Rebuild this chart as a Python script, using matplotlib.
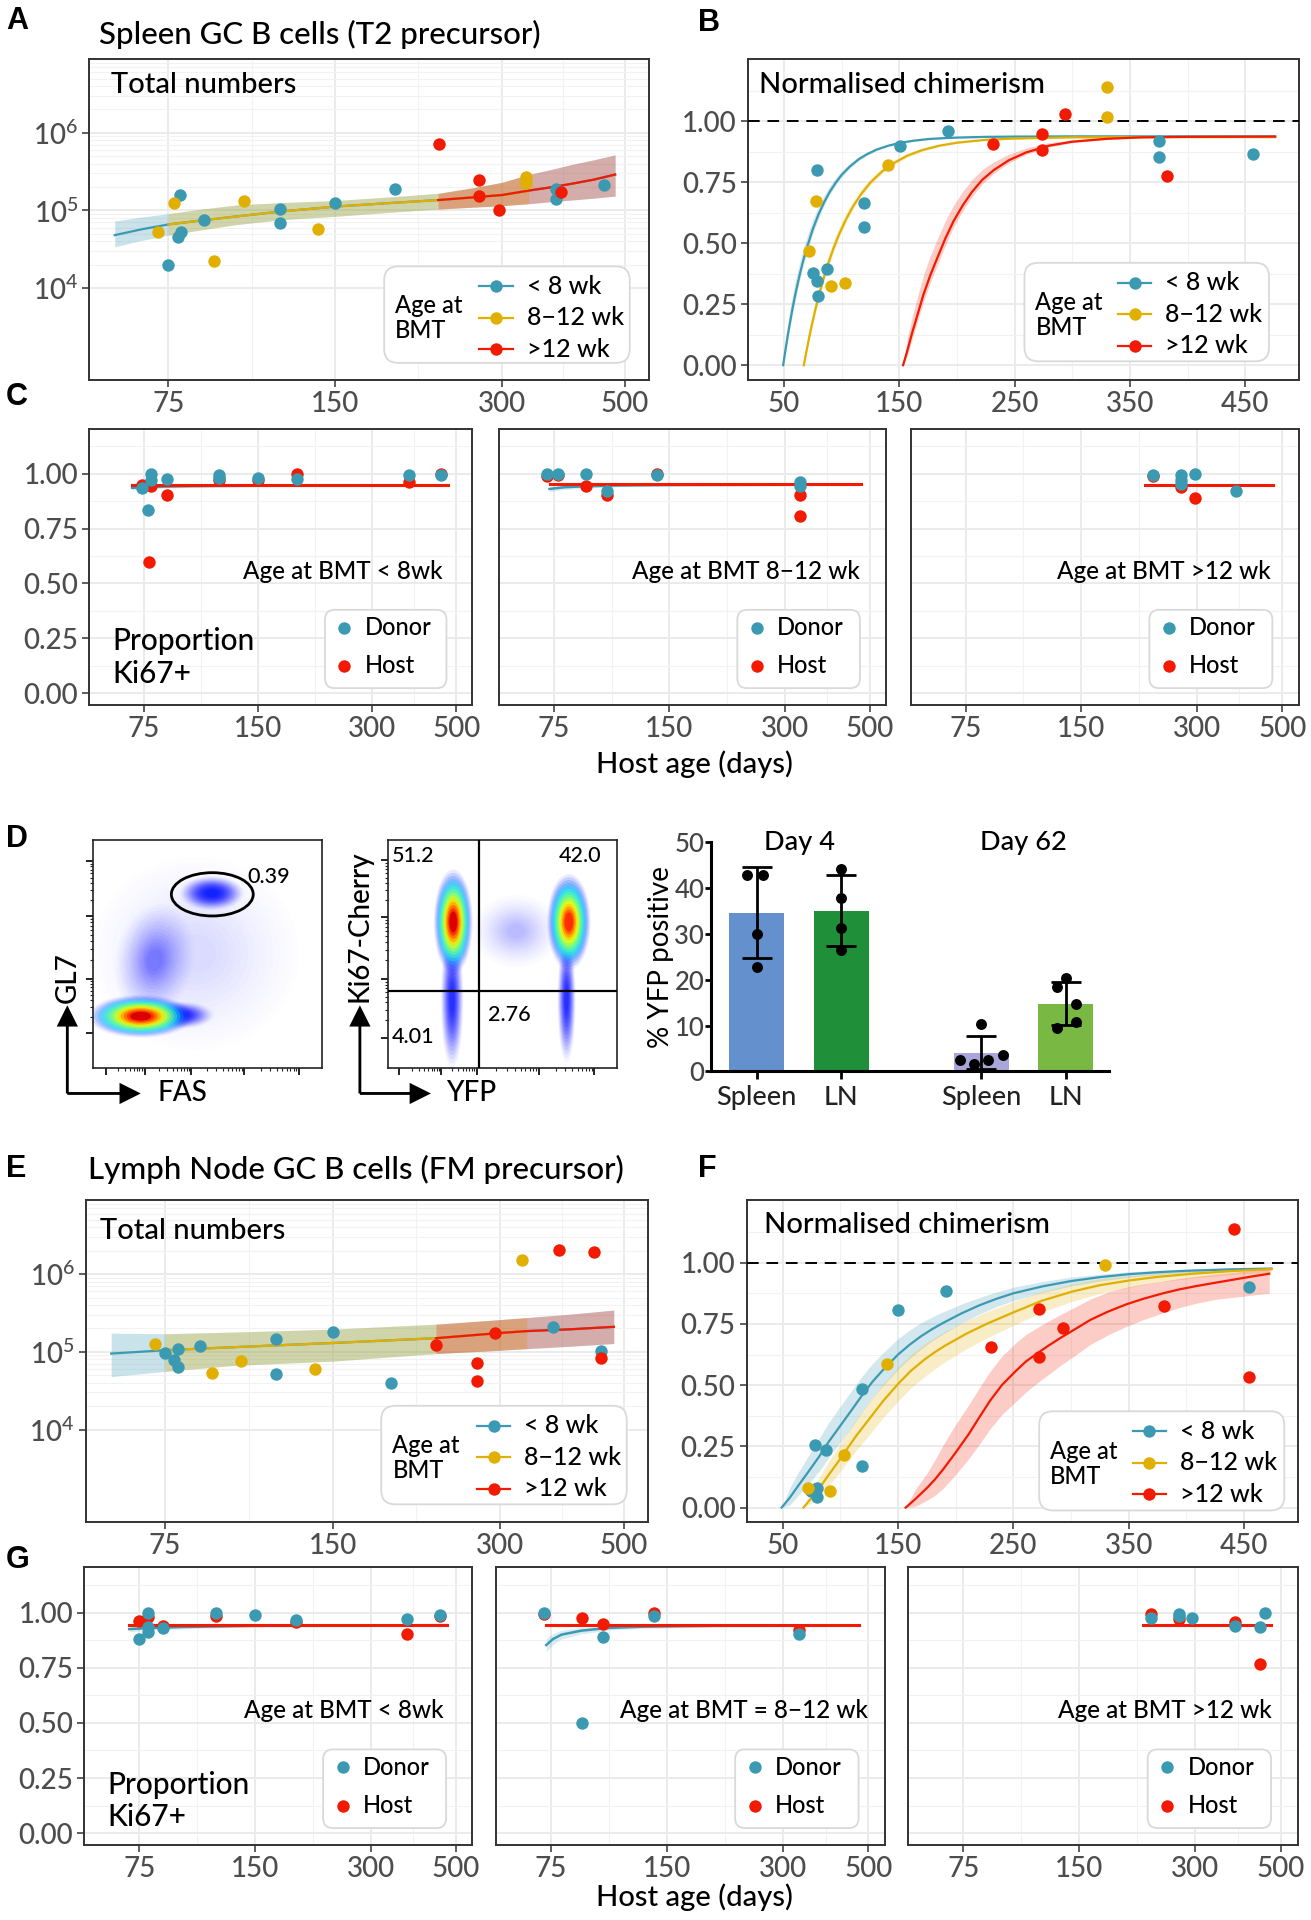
import numpy as np
import matplotlib
matplotlib.use("Agg")
import matplotlib.pyplot as plt
from matplotlib.patches import FancyBboxPatch, Ellipse, FancyArrowPatch
from matplotlib.ticker import NullFormatter

plt.rcParams['font.family'] = ['Lato', 'DejaVu Sans']
plt.rcParams['font.weight'] = 'medium'
plt.rcParams['mathtext.fontset'] = 'custom'
plt.rcParams['mathtext.rm'] = 'Lato'

# === Palette / shared labels ===
BLUE, YELLOW, RED = '#3B9AB2', '#E1AF00', '#F21A00'
GROUP_COLORS = [BLUE, YELLOW, RED]
GROUP_LABELS = ['< 8 wk', '8\u221212 wk', '>12 wk']
AGE_TICKS = [75, 150, 300, 500]
AGE_MINOR = [106, 212, 387]
CHIM_TICKS = [50, 150, 250, 350, 450]
CHIM_MINOR = [100, 200, 300, 400]
PROP_TICKS = [0.0, 0.25, 0.5, 0.75, 1.0]
PROP_MINOR = [0.125, 0.375, 0.625, 0.875, 1.125]

# === A: spleen GC B cells, total numbers ===
A_BLUE_X = [78.7, 86.8, 79, 78, 75, 119, 119, 150, 192, 376, 376, 459]
A_BLUE_Y = [1.58e5, 7.6e4, 5.2e4, 4.5e4, 2.0e4, 1.04e5, 6.8e4, 1.24e5, 1.9e5, 1.9e5, 1.39e5, 2.1e5]
A_YELLOW_X = [71.8, 76.8, 90.5, 102.7, 139.5, 331, 331]
A_YELLOW_Y = [5.2e4, 1.24e5, 2.2e4, 1.34e5, 5.7e4, 2.7e5, 2.26e5]
A_RED_X = [231, 273, 273, 296, 383]
A_RED_Y = [7.1e5, 2.5e5, 1.53e5, 1.02e5, 1.74e5]
A_FIT_X = [60, 67, 75, 87, 100, 120, 150, 190, 230, 265, 300, 335, 370, 400, 440, 480]
A_FIT_MID = [4.8e4, 5.7e4, 6.6e4, 7.5e4, 8.4e4, 9.7e4, 1.12e5, 1.25e5, 1.36e5, 1.47e5, 1.58e5, 1.8e5, 2.0e5, 2.2e5, 2.5e5, 2.9e5]
A_FIT_HI = [7.3e4, 8.2e4, 9.1e4, 1.05e5, 1.18e5, 1.26e5, 1.34e5, 1.5e5, 1.66e5, 1.95e5, 2.3e5, 2.9e5, 3.4e5, 3.9e5, 4.5e5, 5.2e5]
A_FIT_LO = [3.4e4, 4.1e4, 4.8e4, 5.7e4, 6.6e4, 7.6e4, 8.4e4, 9.5e4, 1.04e5, 1.1e5, 1.15e5, 1.22e5, 1.3e5, 1.36e5, 1.44e5, 1.53e5]
A_FIT_SPANS = [(60, 480), (75, 335), (230, 480)]

# === B: spleen normalised chimerism ===
B_BLUE_X = [78.2, 75.3, 79, 79.3, 87.4, 119.6, 119.6, 150.7, 192, 375, 375, 456.6]
B_BLUE_Y = [0.799, 0.376, 0.344, 0.283, 0.395, 0.663, 0.566, 0.900, 0.962, 0.918, 0.852, 0.866]
B_YELLOW_X = [72, 77.5, 91, 103, 140.5, 330, 330]
B_YELLOW_Y = [0.467, 0.675, 0.326, 0.335, 0.821, 1.14, 1.018]
B_RED_X = [231, 273.4, 273.4, 294, 382]
B_RED_Y = [0.907, 0.948, 0.881, 1.03, 0.775]
B_BLUE_FIT_X = [49.3, 50.5, 52, 53.5, 55, 57.5, 60, 62.5, 65, 67.5, 70, 75, 80, 85, 90, 95, 100, 107, 115,
                122, 130, 140, 150, 162, 175, 190, 200, 225, 250, 300, 400, 476]
B_BLUE_FIT_Y = [0.0, 0.039, 0.085, 0.129, 0.170, 0.235, 0.294, 0.348, 0.398, 0.443, 0.484, 0.558, 0.619,
                0.670, 0.713, 0.749, 0.780, 0.814, 0.845, 0.865, 0.883, 0.899, 0.911, 0.920, 0.927, 0.931,
                0.933, 0.936, 0.937, 0.938, 0.938, 0.938]
B_BLUE_FIT_UP = [0, 0.03, 0.045, 0.05, 0.055, 0.055, 0.055, 0.052, 0.05, 0.047, 0.044, 0.038, 0.033, 0.028,
                 0.024, 0.02, 0.017, 0.013, 0.01, 0.008, 0.007, 0.005, 0.004, 0.004, 0.003, 0.003, 0.003,
                 0.003, 0.003, 0.003, 0.003, 0.003]
B_BLUE_FIT_DN = [0, 0.01, 0.015, 0.02, 0.02, 0.022, 0.022, 0.022, 0.022, 0.021, 0.02, 0.018, 0.016, 0.014,
                 0.012, 0.01, 0.009, 0.007, 0.006, 0.005, 0.004, 0.003, 0.003, 0.003, 0.003, 0.002, 0.002,
                 0.002, 0.002, 0.002, 0.002, 0.002]
B_YELLOW_FIT_X = [67.2, 68.5, 70, 72, 74, 77, 80, 84, 88, 93, 98, 104, 110, 117, 125, 135, 145, 157, 170,
                  185, 200, 225, 250, 300, 400, 476]
B_YELLOW_FIT_Y = [0.0, 0.033, 0.070, 0.117, 0.162, 0.224, 0.281, 0.350, 0.412, 0.480, 0.539, 0.600, 0.652,
                  0.702, 0.749, 0.794, 0.828, 0.859, 0.882, 0.900, 0.912, 0.924, 0.929, 0.934, 0.935, 0.935]
B_YELLOW_FIT_UP = [0, 0.015, 0.025, 0.03, 0.033, 0.035, 0.035, 0.034, 0.032, 0.03, 0.028, 0.025, 0.022,
                   0.019, 0.016, 0.013, 0.011, 0.009, 0.007, 0.005, 0.004, 0.003, 0.003, 0.003, 0.003, 0.003]
B_YELLOW_FIT_DN = [0, 0.008, 0.01, 0.012, 0.013, 0.014, 0.015, 0.015, 0.015, 0.014, 0.013, 0.012, 0.011,
                   0.01, 0.009, 0.008, 0.007, 0.006, 0.005, 0.004, 0.003, 0.003, 0.002, 0.002, 0.002, 0.002]
B_RED_FIT_X = [153.3, 157, 161, 166, 171, 177, 183, 190, 197, 205, 213, 222, 232, 245, 260, 280, 300, 330,
               360, 400, 476]
B_RED_FIT_Y = [0.0, 0.06, 0.13, 0.21, 0.29, 0.37, 0.44, 0.52, 0.59, 0.655, 0.71, 0.76, 0.80, 0.84, 0.872,
               0.90, 0.916, 0.928, 0.934, 0.936, 0.937]
B_RED_FIT_UP = [0, 0.05, 0.065, 0.075, 0.08, 0.08, 0.078, 0.072, 0.065, 0.057, 0.05, 0.042, 0.034, 0.025,
                0.018, 0.012, 0.008, 0.005, 0.003, 0.002, 0.002]
B_RED_FIT_DN = [0, 0.02, 0.025, 0.028, 0.03, 0.03, 0.03, 0.028, 0.025, 0.022, 0.02, 0.017, 0.014, 0.011,
                0.008, 0.006, 0.004, 0.003, 0.002, 0.002, 0.002]

# === C: spleen proportion Ki67+ (donor / host) ===
C1_DONOR_X = [74.4, 78.7, 78.7, 77.3, 86.6, 118.7, 118.7, 150, 190.5, 375, 457]
C1_DONOR_Y = [0.936, 0.997, 0.97, 0.833, 0.977, 0.992, 0.982, 0.982, 0.977, 0.995, 0.992]
C1_HOST_X = [74.4, 78.7, 77.7, 86.6, 118.7, 150, 190.5, 375, 457]
C1_HOST_Y = [0.947, 0.942, 0.598, 0.902, 0.973, 0.97, 1.0, 0.962, 1.0]
C2_DONOR_X = [71.8, 77, 90.9, 103.1, 139.5, 329, 329]
C2_DONOR_Y = [1.0, 1.0, 1.0, 0.922, 0.995, 0.962, 0.942]
C2_HOST_X = [71.8, 77, 90.9, 103.1, 139.5, 329, 329]
C2_HOST_Y = [0.991, 0.995, 0.945, 0.904, 1.0, 0.904, 0.808]
C3_DONOR_X = [230.5, 272.6, 272.6, 272.6, 295.6, 380]
C3_DONOR_Y = [0.995, 0.992, 0.973, 0.952, 1.0, 0.921]
C3_HOST_X = [230.5, 272.6, 295.6]
C3_HOST_Y = [0.989, 0.939, 0.889]
C1_DONOR_FIT = ([70, 80, 100, 150, 475], [0.935, 0.94, 0.943, 0.945, 0.946], [0.01, 0.008, 0.006, 0.005, 0.005])
C1_HOST_FIT = ([70, 475], [0.948, 0.948])
C2_DONOR_FIT = ([73, 80, 90, 110, 150, 473], [0.93, 0.938, 0.942, 0.946, 0.948, 0.95], [0.012, 0.01, 0.008, 0.006, 0.005, 0.005])
C2_HOST_FIT = ([73, 473], [0.953, 0.953])
C3_DONOR_FIT = ([220, 472], [0.948, 0.948], [0.005, 0.005])
C3_HOST_FIT = ([220, 472], [0.95, 0.95])

# === D: YFP positive bars ===
BAR_NAMES = ['Spleen', 'LN', 'Spleen', 'LN']
BAR_DAYS = ['Day 4', 'Day 62']
BAR_MEANS = [34.7, 35.1, 4.1, 14.8]
BAR_SD = [10.0, 7.7, 3.6, 4.7]
BAR_COLORS = ['#6490CD', '#1F8F3A', '#A9A6DA', '#79B843']
BAR_DOTS = [[43.0, 43.0, 30.0, 22.8],
            [44.3, 37.8, 31.4, 26.5],
            [10.4, 2.55, 1.53, 2.4, 3.6],
            [20.5, 18.4, 14.8, 9.5, 10.9]]
BAR_DOT_JITTER = [[-0.115, 0.075, 0.0, 0.0],
                  [0.0, 0.0, 0.0, 0.0],
                  [0.0, -0.25, -0.085, 0.08, 0.255],
                  [0.0, -0.11, 0.115, -0.11, 0.115]]
# flow populations: centre x, centre y, width, height, angle, peak level, alpha outer, alpha inner
FLOW1_BLOBS = [(0.45, 0.50, 0.90, 0.85, 0, 0.12, 0.008, 0.012),
               (0.27, 0.47, 0.34, 0.50, -10, 0.13, 0.015, 0.07),
               (0.52, 0.765, 0.28, 0.15, 0, 0.15, 0.04, 0.28),
               (0.38, 0.23, 0.30, 0.12, 0, 0.14, 0.03, 0.25),
               (0.21, 0.225, 0.46, 0.19, 0, 0.92, 0.05, 1.0)]
FLOW2_BLOBS = [(0.56, 0.60, 0.38, 0.32, 0, 0.12, 0.01, 0.03),
               (0.28, 0.30, 0.10, 0.60, 0, 0.14, 0.04, 0.2),
               (0.78, 0.30, 0.08, 0.55, 0, 0.14, 0.04, 0.2),
               (0.285, 0.64, 0.17, 0.46, 0, 0.92, 0.08, 1.0),
               (0.79, 0.64, 0.19, 0.42, 0, 0.86, 0.08, 1.0)]
FLOW1_GATE = (0.522, 0.76, 0.357, 0.19)
FLOW1_GATE_PCT = '0.39'
FLOW2_QUAD = (0.397, 0.339)
FLOW2_PCTS = ['51.2', '42.0', '4.01', '2.76']

# === E: lymph node total numbers ===
E_BLUE_X = [75, 79, 77.8, 79, 86.6, 118.8, 118.8, 150, 191.2, 373.6, 454.5]
E_BLUE_Y = [9.7e4, 1.09e5, 7.8e4, 6.4e4, 1.18e5, 1.48e5, 5.25e4, 1.78e5, 3.95e4, 2.06e5, 1.04e5]
E_YELLOW_X = [71.9, 90.9, 102.6, 139.3, 329]
E_YELLOW_Y = [1.26e5, 5.4e4, 7.6e4, 6.1e4, 1.53e6]
E_RED_X = [230.4, 272.9, 272.9, 294, 382, 441.6, 454.5]
E_RED_Y = [1.22e5, 7.2e4, 4.2e4, 1.74e5, 2.04e6, 1.9e6, 8.4e4]
E_FIT_X = [60, 75, 100, 150, 230, 300, 335, 400, 480]
E_FIT_MID = [9.5e4, 1.05e5, 1.15e5, 1.3e5, 1.5e5, 1.75e5, 1.85e5, 1.95e5, 2.1e5]
E_FIT_HI = [1.74e5, 1.71e5, 1.8e5, 1.96e5, 2.27e5, 2.6e5, 2.76e5, 3.05e5, 3.45e5]
E_FIT_LO = [4.8e4, 5.6e4, 6.7e4, 7.6e4, 9.5e4, 1.05e5, 1.1e5, 1.18e5, 1.28e5]
E_FIT_SPANS = [(60, 480), (75, 335), (230, 480)]

# === F: lymph node normalised chimerism ===
F_BLUE_X = [78.1, 87.2, 74.5, 79.4, 80, 119, 119, 150, 192, 454.7]
F_BLUE_Y = [0.256, 0.236, 0.066, 0.082, 0.044, 0.486, 0.171, 0.805, 0.886, 0.901]
F_YELLOW_X = [71.5, 90.9, 102.9, 140.1, 329.2]
F_YELLOW_Y = [0.082, 0.068, 0.215, 0.585, 0.99]
F_RED_X = [230.3, 272.3, 272.3, 293, 381, 441, 454]
F_RED_Y = [0.655, 0.811, 0.616, 0.733, 0.825, 1.137, 0.533]
F_BLUE_FIT_X = [49, 56, 63.5, 72, 81.8, 90, 100, 110, 119, 128, 136.5, 150, 160, 170, 180, 189.4, 205, 220,
                235, 250, 275, 300, 325, 350, 375, 400, 440, 474]
F_BLUE_FIT_Y = [0.0, 0.04, 0.09, 0.145, 0.21, 0.27, 0.335, 0.4, 0.46, 0.515, 0.56, 0.625, 0.665, 0.70, 0.73,
                0.755, 0.793, 0.825, 0.852, 0.875, 0.903, 0.925, 0.941, 0.953, 0.961, 0.967, 0.973, 0.976]
F_BLUE_FIT_UP = [0, 0.04, 0.055, 0.065, 0.075, 0.078, 0.08, 0.08, 0.078, 0.074, 0.07, 0.065, 0.06, 0.055,
                 0.05, 0.045, 0.038, 0.032, 0.028, 0.025, 0.02, 0.016, 0.012, 0.01, 0.008, 0.006, 0.005, 0.004]
F_BLUE_FIT_DN = [0, 0.03, 0.04, 0.05, 0.06, 0.065, 0.068, 0.07, 0.068, 0.066, 0.064, 0.06, 0.056, 0.052,
                 0.048, 0.045, 0.04, 0.036, 0.032, 0.03, 0.025, 0.02, 0.016, 0.013, 0.01, 0.008, 0.007, 0.006]
F_YELLOW_FIT_X = [67.9, 75, 81.8, 90, 97, 103.6, 114, 125.5, 137, 150, 161, 173, 182, 191, 210, 227.7, 250,
                  275, 301, 325, 350, 375, 403, 440, 474]
F_YELLOW_FIT_Y = [0.0, 0.04, 0.08, 0.135, 0.18, 0.225, 0.295, 0.365, 0.435, 0.505, 0.558, 0.605, 0.635,
                  0.662, 0.712, 0.752, 0.797, 0.845, 0.882, 0.908, 0.927, 0.942, 0.954, 0.966, 0.974]
F_YELLOW_FIT_UP = [0, 0.03, 0.045, 0.055, 0.06, 0.065, 0.068, 0.07, 0.07, 0.068, 0.066, 0.063, 0.06, 0.058,
                   0.053, 0.049, 0.044, 0.037, 0.031, 0.026, 0.02, 0.016, 0.012, 0.009, 0.007]
F_YELLOW_FIT_DN = [0, 0.02, 0.03, 0.045, 0.05, 0.055, 0.06, 0.065, 0.068, 0.07, 0.07, 0.07, 0.068, 0.066,
                   0.062, 0.058, 0.053, 0.046, 0.04, 0.034, 0.028, 0.022, 0.018, 0.014, 0.012]
F_RED_FIT_X = [156.6, 165, 175, 182, 189.4, 200, 211.3, 220, 229.6, 240, 251.5, 261, 270.8, 281, 291.6, 304,
               317, 332, 348, 363, 379, 393, 408, 425, 440, 456, 472]
F_RED_FIT_Y = [0.0, 0.035, 0.08, 0.115, 0.158, 0.225, 0.30, 0.365, 0.435, 0.50, 0.555, 0.597, 0.63, 0.663,
               0.695, 0.73, 0.767, 0.8, 0.83, 0.853, 0.874, 0.89, 0.904, 0.918, 0.93, 0.943, 0.955]
F_RED_FIT_UP = [0, 0.04, 0.06, 0.08, 0.1, 0.115, 0.12, 0.12, 0.12, 0.118, 0.115, 0.11, 0.105, 0.1, 0.095,
                0.09, 0.085, 0.08, 0.07, 0.06, 0.05, 0.045, 0.04, 0.035, 0.03, 0.025, 0.02]
F_RED_FIT_DN = [0, 0.03, 0.05, 0.065, 0.078, 0.09, 0.1, 0.11, 0.115, 0.12, 0.125, 0.125, 0.12, 0.118, 0.112,
                0.107, 0.1, 0.095, 0.09, 0.085, 0.08, 0.075, 0.07, 0.068, 0.072, 0.076, 0.08]

# === G: lymph node proportion Ki67+ ===
G1_DONOR_X = [75, 78.9, 78.9, 78.9, 86.3, 119, 150, 192.2, 373.5, 454]
G1_DONOR_Y = [0.88, 1.0, 0.936, 0.914, 0.929, 1.0, 0.989, 0.967, 0.971, 0.989]
G1_HOST_X = [75, 78.9, 86.3, 119, 192.2, 373.5, 454]
G1_HOST_Y = [0.962, 0.979, 0.941, 0.985, 0.955, 0.902, 0.985]
G2_DONOR_X = [72, 90.6, 102.6, 138.6, 330]
G2_DONOR_Y = [1.0, 0.5, 0.89, 0.985, 0.903]
G2_HOST_X = [72, 90.6, 102.6, 138.6, 330]
G2_HOST_Y = [0.994, 0.974, 0.948, 0.997, 0.921]
G3_DONOR_X = [230.5, 272.5, 272.5, 293.6, 379.5, 440, 455]
G3_DONOR_Y = [0.974, 0.994, 0.985, 0.974, 0.939, 0.933, 1.0]
G3_HOST_X = [230.5, 272.5, 379.5, 440]
G3_HOST_Y = [0.994, 0.971, 0.955, 0.765]
G1_DONOR_FIT = ([70.6, 80, 100, 150, 474], [0.925, 0.93, 0.935, 0.94, 0.943], [0.012, 0.01, 0.008, 0.006, 0.005])
G1_HOST_FIT = ([70.6, 474], [0.944, 0.944])
G2_DONOR_FIT = ([73, 76, 80, 90, 105, 130, 200, 472], [0.853, 0.88, 0.9, 0.918, 0.93, 0.936, 0.94, 0.942],
                [0.03, 0.025, 0.02, 0.015, 0.01, 0.008, 0.006, 0.005])
G2_HOST_FIT = ([73, 472], [0.945, 0.945])
G3_DONOR_FIT = ([220, 472], [0.942, 0.942], [0.005, 0.005])
G3_HOST_FIT = ([220, 472], [0.944, 0.944])

# === Figure & layout helpers (layout measured on a 1071 x 1568 grid) ===
W, H = 1071.0, 1568.0
fig = plt.figure(figsize=(13.11, 19.20), dpi=100)


def rect(x0, y0, x1, y1):
    return [x0 / W, 1 - y1 / H, (x1 - x0) / W, (y1 - y0) / H]


def fpt(x, y):
    return (x / W, 1 - y / H)


def ftext(x, y, s, **kw):
    fig.text(x / W, 1 - y / H, s, **kw)


def letter(x, y, s):
    ftext(x, y, s, fontsize=22, fontweight='bold', family='Liberation Sans', va='center', ha='left')


def style_gg(ax):
    ax.set_facecolor('white')
    for sp in ax.spines.values():
        sp.set_color('#333333')
        sp.set_linewidth(1.4)
    ax.tick_params(which='major', length=5, width=1.1, color='#333333',
                   labelsize=20, labelcolor='#4D4D4D', pad=3)
    ax.tick_params(which='minor', length=0)
    ax.grid(which='major', color='#EBEBEB', lw=1.4)
    ax.grid(which='minor', color='#F2F2F2', lw=0.8)
    ax.set_axisbelow(True)


def log_age_x(ax):
    ax.set_xscale('log')
    ax.set_xlim(54, 552)
    ax.set_xticks(AGE_TICKS)
    ax.set_xticklabels([str(t) for t in AGE_TICKS])
    ax.set_xticks(AGE_MINOR, minor=True)
    ax.xaxis.set_minor_formatter(NullFormatter())


def round_box(ax, x0, y0, x1, y1):
    pos = ax.get_position()
    aspect = (pos.width * fig.get_figwidth()) / (pos.height * fig.get_figheight())
    ax.add_patch(FancyBboxPatch((x0, y0), x1 - x0, y1 - y0,
                                boxstyle='round,pad=0,rounding_size=0.025',
                                mutation_aspect=aspect, transform=ax.transAxes,
                                fc='white', ec='#D9D9D9', lw=1.3, zorder=7))


def age_legend(ax, x0, y0, x1, y1):
    round_box(ax, x0, y0, x1, y1)
    ax.text(x0 + 0.02, (y0 + y1) / 2 - 0.01, 'Age at\nBMT', transform=ax.transAxes,
            ha='left', va='center', fontsize=17, linespacing=1.1, zorder=8)
    for i, (c, lab) in enumerate(zip(GROUP_COLORS, GROUP_LABELS)):
        yy = y1 - 0.062 - 0.098 * i
        ax.plot([x0 + 0.17, x0 + 0.23], [yy, yy], transform=ax.transAxes, color=c,
                lw=1.6, zorder=8, clip_on=False)
        ax.scatter([x0 + 0.2], [yy], transform=ax.transAxes, s=80, color=c, lw=0,
                   zorder=9, clip_on=False)
        ax.text(x0 + 0.255, yy, lab, transform=ax.transAxes, ha='left', va='center',
                fontsize=18, zorder=8)


def dh_legend(ax):
    x0, y0, x1, y1 = 0.615, 0.062, 0.932, 0.345
    round_box(ax, x0, y0, x1, y1)
    for c, lab, yy in [(BLUE, 'Donor', 0.28), (RED, 'Host', 0.143)]:
        ax.scatter([0.665], [yy], transform=ax.transAxes, s=80, color=c, lw=0, zorder=9)
        ax.text(0.718, yy, lab, transform=ax.transAxes, ha='left', va='center',
                fontsize=17, zorder=8)


def totals_panel(ax, pts, fx, fmid, flo, fhi, spans, ylim, title_xy, leg):
    style_gg(ax)
    log_age_x(ax)
    ax.set_yscale('log')
    ax.set_ylim(*ylim)
    ax.set_yticks([1e4, 1e5, 1e6])
    ax.set_yticklabels([r'$\mathregular{10^{4}}$', r'$\mathregular{10^{5}}$', r'$\mathregular{10^{6}}$'])
    ax.set_yticks([k * 10.0 ** n for n in (4, 5, 6) for k in range(2, 10)], minor=True)
    ax.yaxis.set_minor_formatter(NullFormatter())
    fx, fmid, flo, fhi = map(np.asarray, (fx, fmid, flo, fhi))
    for c, (a, b) in zip(GROUP_COLORS, spans):
        m = (fx >= a) & (fx <= b)
        ax.fill_between(fx[m], flo[m], fhi[m], color=c, alpha=0.27, lw=0, zorder=2)
    for c, (a, b) in zip(GROUP_COLORS, spans):
        m = (fx >= a) & (fx <= b)
        ax.plot(fx[m], fmid[m], color=c, lw=1.6, zorder=3)
    for c, (x, y) in zip(GROUP_COLORS, pts):
        ax.scatter(x, y, s=80, color=c, lw=0, zorder=4)
    ax.text(title_xy[0], title_xy[1], 'Total numbers', transform=ax.transAxes,
            fontsize=21, ha='left', va='center')
    age_legend(ax, *leg)


def chim_panel(ax, pts, fits, title_xy, leg):
    style_gg(ax)
    ax.set_xlim(18.7, 496.5)
    ax.set_ylim(-0.059, 1.256)
    ax.set_xticks(CHIM_TICKS)
    ax.set_xticks(CHIM_MINOR, minor=True)
    ax.set_yticks(PROP_TICKS)
    ax.set_yticklabels(['%.2f' % t for t in PROP_TICKS])
    ax.set_yticks(PROP_MINOR, minor=True)
    ax.axhline(1.0, color='black', lw=1.4, ls=(0, (6, 4)), zorder=3)
    for c, (x, y, up, dn) in zip(GROUP_COLORS, fits):
        x, y, up, dn = map(np.asarray, (x, y, up, dn))
        ax.fill_between(x, y - dn, y + up, color=c, alpha=0.22, lw=0, zorder=2)
        ax.plot(x, y, color=c, lw=1.6, zorder=3)
    for c, (x, y) in zip(GROUP_COLORS, pts):
        ax.scatter(x, y, s=80, color=c, lw=0, zorder=4)
    ax.text(title_xy[0], title_xy[1], 'Normalised chimerism', transform=ax.transAxes,
            fontsize=21, ha='left', va='center')
    age_legend(ax, *leg)


def ki67_panel(ax, dx, dy, hx, hy, dfit, hfit, label, label_x, first, prop_y):
    style_gg(ax)
    log_age_x(ax)
    ax.set_ylim(-0.055, 1.205)
    ax.set_yticks(PROP_TICKS)
    ax.set_yticklabels(['%.2f' % t for t in PROP_TICKS])
    ax.set_yticks(PROP_MINOR, minor=True)
    if not first:
        ax.tick_params(axis='y', length=0, labelleft=False)
    fx, fy, band = map(np.asarray, dfit)
    ax.fill_between(fx, fy - band, fy + band, color=BLUE, alpha=0.18, lw=0, zorder=2)
    ax.plot(fx, fy, color=BLUE, lw=1.8, zorder=3)
    ax.plot(hfit[0], hfit[1], color=RED, lw=2.2, zorder=3)
    ax.scatter(hx, hy, s=80, color=RED, lw=0, zorder=4)
    ax.scatter(dx, dy, s=80, color=BLUE, lw=0, zorder=5)
    ax.text(label_x, 0.485, label, transform=ax.transAxes, ha='right', va='center', fontsize=17.5)
    if first:
        ax.text(0.06, prop_y, 'Proportion\nKi67+', transform=ax.transAxes, ha='left',
                va='center', fontsize=21.5, linespacing=1.2)
    dh_legend(ax)


def draw_blob(ax, cx, cy, w, h, ang, peak, a0, a1, n=14):
    for i in range(n):
        t = i / (n - 1)
        f = 1.0 - 0.8 * t
        lev = 0.12 + (peak - 0.12) * t
        ax.add_patch(Ellipse((cx, cy), w * f, h * f, angle=ang, color=plt.cm.jet(lev),
                             alpha=a0 + (a1 - a0) * t, lw=0, zorder=2))


def flow_axes(r, ymajor, xmajor):
    ax = fig.add_axes(r)
    ax.set_xlim(0, 1)
    ax.set_ylim(0, 1)
    for sp in ax.spines.values():
        sp.set_color('#222222')
        sp.set_linewidth(1.2)
    ax.set_yticks(ymajor)
    ax.set_xticks(xmajor)
    yminor = [a + (b - a) * np.log10(k) for a, b in zip(ymajor[:-1], ymajor[1:]) for k in range(2, 10)]
    xminor = [a + (b - a) * np.log10(k) for a, b in zip(xmajor[:-1], xmajor[1:]) for k in range(2, 10)]
    ax.set_yticks(yminor, minor=True)
    ax.set_xticks(xminor, minor=True)
    ax.tick_params(which='major', length=5, width=1.4, color='#222222', labelleft=False, labelbottom=False)
    ax.tick_params(which='minor', length=2.5, width=0.8, color='#222222')
    return ax


def corner_arrows(cx, cy, top, right, ylab, ylab_y, xlab, xlab_x):
    style = 'simple,head_length=0.9,head_width=0.9,tail_width=0.12'
    for end in [(cx, top), (right, cy)]:
        fig.add_artist(FancyArrowPatch(fpt(cx, cy), fpt(*end), transform=fig.transFigure,
                                       arrowstyle=style, mutation_scale=17, color='black',
                                       shrinkA=0, shrinkB=0, lw=0))
    ftext(cx, ylab_y, ylab, rotation=90, ha='center', va='center', fontsize=20)
    ftext(xlab_x, cy, xlab, ha='left', va='center', fontsize=20)


# === Panel A ===
letter(5, 17, 'A')
ftext(80.6, 28, 'Spleen GC B cells (T2 precursor)', fontsize=22.5, va='center', ha='left')
axA = fig.add_axes(rect(73, 48, 530, 310))
totals_panel(axA, [(A_BLUE_X, A_BLUE_Y), (A_YELLOW_X, A_YELLOW_Y), (A_RED_X, A_RED_Y)],
             A_FIT_X, A_FIT_MID, A_FIT_LO, A_FIT_HI, A_FIT_SPANS,
             (10 ** 2.82, 10 ** 6.87), (0.039, 0.917), (0.527, 0.052, 0.966, 0.353))

# === Panel B ===
letter(570.6, 19, 'B')
axB = fig.add_axes(rect(611, 48, 1061, 310))
chim_panel(axB, [(B_BLUE_X, B_BLUE_Y), (B_YELLOW_X, B_YELLOW_Y), (B_RED_X, B_RED_Y)],
           [(B_BLUE_FIT_X, B_BLUE_FIT_Y, B_BLUE_FIT_UP, B_BLUE_FIT_DN),
            (B_YELLOW_FIT_X, B_YELLOW_FIT_Y, B_YELLOW_FIT_UP, B_YELLOW_FIT_DN),
            (B_RED_FIT_X, B_RED_FIT_Y, B_RED_FIT_UP, B_RED_FIT_DN)],
           (0.02, 0.917), (0.502, 0.057, 0.946, 0.364))

# === Panel C ===
letter(5, 324, 'C')
c_boxes = [(73, 350, 386, 576), (408, 350, 724, 576), (744, 350, 1061, 576)]
c_data = [(C1_DONOR_X, C1_DONOR_Y, C1_HOST_X, C1_HOST_Y, C1_DONOR_FIT, C1_HOST_FIT, 'Age at BMT < 8wk', 0.923),
          (C2_DONOR_X, C2_DONOR_Y, C2_HOST_X, C2_HOST_Y, C2_DONOR_FIT, C2_HOST_FIT, 'Age at BMT 8\u221212 wk', 0.933),
          (C3_DONOR_X, C3_DONOR_Y, C3_HOST_X, C3_HOST_Y, C3_DONOR_FIT, C3_HOST_FIT, 'Age at BMT >12 wk', 0.927)]
for i, (bx, d) in enumerate(zip(c_boxes, c_data)):
    ax = fig.add_axes(rect(*bx))
    ki67_panel(ax, *d, first=(i == 0), prop_y=0.172)
ftext(567, 624, 'Host age (days)', fontsize=21, ha='center', va='center')

# === Panel D ===
letter(5, 685, 'D')
ax1 = flow_axes(rect(75.6, 685.7, 263, 871.8), [0.152, 0.39, 0.664, 0.906], [0.06, 0.23, 0.43, 0.66, 0.9])
for b in FLOW1_BLOBS:
    draw_blob(ax1, *b)
gx, gy, gw, gh = FLOW1_GATE
ax1.add_patch(Ellipse((gx, gy), gw, gh, fill=False, ec='black', lw=2.0, zorder=4))
ax1.text(0.77, 0.835, FLOW1_GATE_PCT, transform=ax1.transAxes, ha='center', va='center', fontsize=15.5)
corner_arrows(55, 893, 821, 115, 'GL7', 798, 'FAS', 129)

ax2 = flow_axes(rect(317, 686, 504, 872), [0.13, 0.39, 0.66, 0.91], [0.05, 0.23, 0.39, 0.66, 0.9])
for b in FLOW2_BLOBS:
    draw_blob(ax2, *b)
qx, qy = FLOW2_QUAD
ax2.axvline(qx, color='black', lw=1.6, zorder=4)
ax2.axhline(qy, color='black', lw=1.6, zorder=4)
for s, (tx, ty) in zip(FLOW2_PCTS, [(0.11, 0.931), (0.838, 0.931), (0.11, 0.134), (0.528, 0.23)]):
    ax2.text(tx, ty, s, transform=ax2.transAxes, ha='center', va='center', fontsize=15.5, zorder=5)
corner_arrows(294, 893, 821, 352, 'Ki67-Cherry', 756, 'YFP', 364.5)

axD = fig.add_axes(rect(581, 688, 906, 875))
pos = [0, 1, 2.66, 3.66]
axD.bar(pos, BAR_MEANS, width=0.65, color=BAR_COLORS, zorder=1)
axD.errorbar(pos, BAR_MEANS, yerr=BAR_SD, fmt='none', ecolor='black', elinewidth=2,
             capsize=10.5, capthick=2, zorder=2)
for p, vals, jit in zip(pos, BAR_DOTS, BAR_DOT_JITTER):
    axD.scatter(np.array(jit) + p, vals, s=62, color='black', lw=0, zorder=3)
axD.set_xlim(-0.54, 4.17)
axD.set_ylim(0, 50)
axD.spines['top'].set_visible(False)
axD.spines['right'].set_visible(False)
for s in ['left', 'bottom']:
    axD.spines[s].set_linewidth(2.2)
    axD.spines[s].set_color('black')
axD.set_xticks(pos)
axD.set_xticklabels(BAR_NAMES, fontsize=19.5, color='#222222')
axD.set_yticks(range(0, 51, 10))
axD.tick_params(axis='y', labelsize=18.5, labelcolor='#444444', length=4, width=2, pad=1)
axD.tick_params(axis='x', length=6, width=2, pad=4)
axD.set_ylabel('% YFP positive', fontsize=20, labelpad=0)
for j, day in enumerate(BAR_DAYS):
    axD.text((pos[2 * j] + pos[2 * j + 1]) / 2, 50, day, ha='center', va='center',
             fontsize=19.5, clip_on=False)

# === Panel E ===
letter(5, 954.5, 'E')
ftext(71.5, 955, 'Lymph Node GC B cells (FM precursor)', fontsize=22.5, va='center', ha='left')
axE = fig.add_axes(rect(70, 980, 529, 1243))
totals_panel(axE, [(E_BLUE_X, E_BLUE_Y), (E_YELLOW_X, E_YELLOW_Y), (E_RED_X, E_RED_Y)],
             E_FIT_X, E_FIT_MID, E_FIT_LO, E_FIT_HI, E_FIT_SPANS,
             (10 ** 2.81, 10 ** 6.89), (0.026, 0.904), (0.526, 0.055, 0.963, 0.361))

# === Panel F ===
letter(570.6, 954.5, 'F')
axF = fig.add_axes(rect(610, 980, 1060, 1243))
chim_panel(axF, [(F_BLUE_X, F_BLUE_Y), (F_YELLOW_X, F_YELLOW_Y), (F_RED_X, F_RED_Y)],
           [(F_BLUE_FIT_X, F_BLUE_FIT_Y, F_BLUE_FIT_UP, F_BLUE_FIT_DN),
            (F_YELLOW_FIT_X, F_YELLOW_FIT_Y, F_YELLOW_FIT_UP, F_YELLOW_FIT_DN),
            (F_RED_FIT_X, F_RED_FIT_Y, F_RED_FIT_UP, F_RED_FIT_DN)],
           (0.031, 0.922), (0.531, 0.036, 0.976, 0.344))

# === Panel G ===
letter(5, 1273.7, 'G')
g_boxes = [(69, 1280, 386, 1507), (405, 1280, 723, 1507), (742, 1280, 1060, 1507)]
g_data = [(G1_DONOR_X, G1_DONOR_Y, G1_HOST_X, G1_HOST_Y, G1_DONOR_FIT, G1_HOST_FIT, 'Age at BMT < 8wk', 0.926),
          (G2_DONOR_X, G2_DONOR_Y, G2_HOST_X, G2_HOST_Y, G2_DONOR_FIT, G2_HOST_FIT, 'Age at BMT = 8\u221212 wk', 0.955),
          (G3_DONOR_X, G3_DONOR_Y, G3_HOST_X, G3_HOST_Y, G3_DONOR_FIT, G3_HOST_FIT, 'Age at BMT >12 wk', 0.934)]
for i, (bx, d) in enumerate(zip(g_boxes, g_data)):
    ax = fig.add_axes(rect(*bx))
    ki67_panel(ax, *d, first=(i == 0), prop_y=0.159)
ftext(567, 1549.6, 'Host age (days)', fontsize=21, ha='center', va='center')

fig.savefig('out.png', dpi=100, facecolor='white')
